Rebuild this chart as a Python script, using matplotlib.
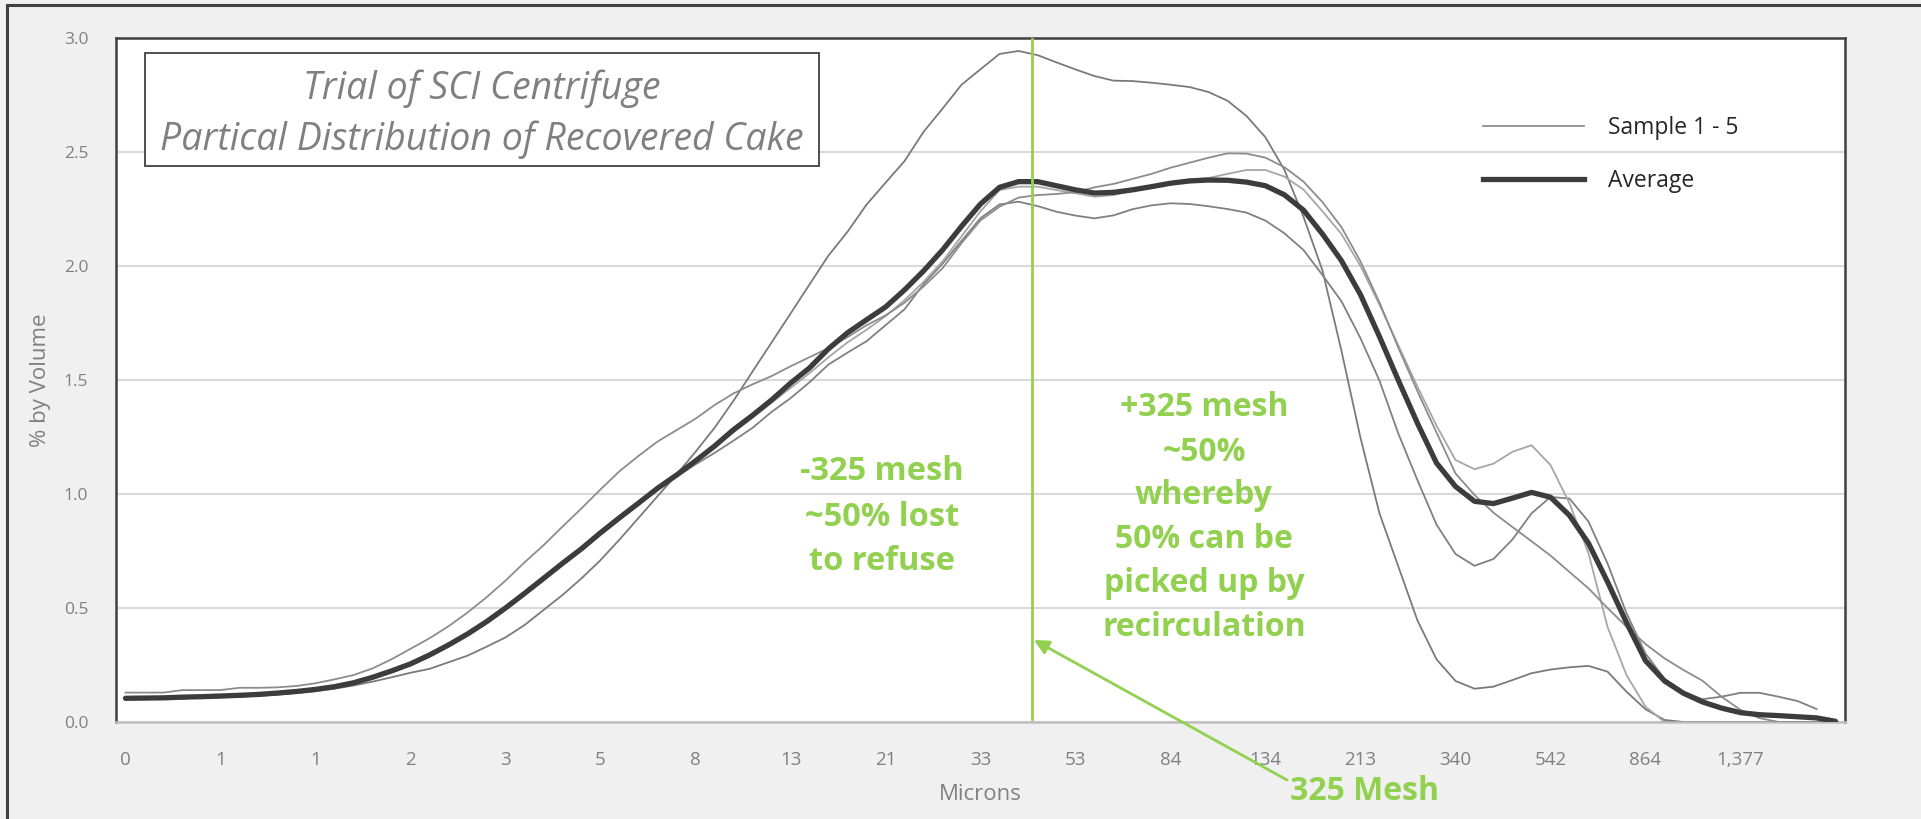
import numpy as np
import matplotlib
matplotlib.use("Agg")
import matplotlib.pyplot as plt
from matplotlib.lines import Line2D

# ---------------- data ----------------
micron_labels = ["0", "1", "1", "2", "3", "5", "8", "13", "21", "33", "53", "84",
                 "134", "213", "340", "542", "864", "1,377"]
label_every = 5
n_bins = 91

sample_a = [0.100, 0.101, 0.102, 0.104, 0.106, 0.108, 0.111, 0.115, 0.120, 0.127,
            0.135, 0.146, 0.160, 0.177, 0.196, 0.216, 0.233, 0.262, 0.291, 0.330,
            0.371, 0.425, 0.491, 0.557, 0.630, 0.710, 0.800, 0.895, 0.990, 1.085,
            1.185, 1.290, 1.409, 1.537, 1.664, 1.791, 1.919, 2.046, 2.150, 2.269,
            2.365, 2.460, 2.588, 2.690, 2.795, 2.863, 2.930, 2.943, 2.925, 2.893,
            2.862, 2.833, 2.813, 2.811, 2.804, 2.795, 2.785, 2.763, 2.725, 2.658,
            2.564, 2.421, 2.216, 1.980, 1.627, 1.246, 0.915, 0.680, 0.445, 0.275,
            0.180, 0.146, 0.155, 0.184, 0.214, 0.230, 0.240, 0.246, 0.221, 0.133,
            0.056, 0.009, 0.0, 0.0, 0.0, 0.0, 0.0, 0.0, 0.0, 0.0, 0.0]

sample_b = [0.099, 0.100, 0.101, 0.104, 0.106, 0.109, 0.112, 0.116, 0.122, 0.129,
            0.138, 0.150, 0.167, 0.190, 0.218, 0.248, 0.287, 0.331, 0.379, 0.432,
            0.492, 0.556, 0.621, 0.688, 0.752, 0.821, 0.887, 0.952, 1.020, 1.075,
            1.130, 1.180, 1.234, 1.290, 1.360, 1.420, 1.490, 1.568, 1.620, 1.670,
            1.740, 1.810, 1.920, 2.010, 2.110, 2.210, 2.270, 2.282, 2.263, 2.238,
            2.221, 2.209, 2.222, 2.249, 2.266, 2.275, 2.272, 2.262, 2.250, 2.234,
            2.199, 2.143, 2.070, 1.960, 1.845, 1.683, 1.497, 1.263, 1.060, 0.866,
            0.737, 0.685, 0.715, 0.801, 0.915, 0.987, 0.980, 0.879, 0.696, 0.477,
            0.300, 0.190, 0.133, 0.100, 0.111, 0.128, 0.128, 0.111, 0.092, 0.057,
            np.nan]

sample_c = [0.108, 0.109, 0.110, 0.113, 0.115, 0.118, 0.121, 0.125, 0.131, 0.138,
            0.147, 0.159, 0.176, 0.200, 0.228, 0.259, 0.298, 0.342, 0.390, 0.444,
            0.504, 0.568, 0.634, 0.700, 0.764, 0.834, 0.900, 0.964, 1.029, 1.087,
            1.149, 1.205, 1.270, 1.335, 1.400, 1.465, 1.530, 1.600, 1.665, 1.720,
            1.780, 1.850, 1.930, 2.020, 2.130, 2.240, 2.333, 2.348, 2.348, 2.333,
            2.319, 2.304, 2.311, 2.330, 2.350, 2.368, 2.380, 2.386, 2.404, 2.421,
            2.421, 2.392, 2.335, 2.240, 2.140, 2.000, 1.830, 1.650, 1.470, 1.300,
            1.149, 1.109, 1.133, 1.185, 1.214, 1.127, 0.959, 0.740, 0.418, 0.206,
            0.067, 0.0, 0.0, 0.0, 0.0, 0.0, 0.0, 0.0, 0.0, 0.0, 0.0]

sample_d = [0.129, 0.129, 0.129, 0.140, 0.140, 0.140, 0.150, 0.150, 0.152, 0.158,
            0.170, 0.187, 0.206, 0.235, 0.275, 0.321, 0.367, 0.420, 0.480, 0.547,
            0.620, 0.700, 0.775, 0.857, 0.937, 1.020, 1.100, 1.167, 1.230, 1.280,
            1.330, 1.390, 1.441, 1.481, 1.517, 1.560, 1.600, 1.640, 1.688, 1.740,
            1.783, 1.839, 1.910, 1.990, 2.100, 2.200, 2.260, 2.300, 2.311, 2.316,
            2.324, 2.345, 2.360, 2.382, 2.404, 2.431, 2.453, 2.475, 2.494, 2.493,
            2.475, 2.433, 2.370, 2.280, 2.170, 2.020, 1.840, 1.640, 1.450, 1.270,
            1.090, 0.996, 0.918, 0.855, 0.793, 0.730, 0.658, 0.586, 0.500, 0.418,
            0.342, 0.279, 0.228, 0.181, 0.111, 0.053, 0.017, 0.0, 0.0, 0.0, 0.0]

average = [0.104, 0.105, 0.106, 0.109, 0.111, 0.114, 0.117, 0.121, 0.127, 0.134,
           0.143, 0.155, 0.172, 0.196, 0.224, 0.255, 0.294, 0.338, 0.386, 0.440,
           0.500, 0.564, 0.630, 0.696, 0.760, 0.830, 0.896, 0.960, 1.025, 1.083,
           1.145, 1.210, 1.282, 1.345, 1.412, 1.486, 1.553, 1.637, 1.707, 1.764,
           1.820, 1.895, 1.978, 2.070, 2.174, 2.272, 2.345, 2.370, 2.370, 2.352,
           2.334, 2.320, 2.323, 2.334, 2.348, 2.363, 2.373, 2.377, 2.376, 2.368,
           2.352, 2.312, 2.245, 2.140, 2.023, 1.874, 1.690, 1.497, 1.310, 1.136,
           1.033, 0.968, 0.958, 0.982, 1.007, 0.986, 0.906, 0.784, 0.615, 0.436,
           0.269, 0.180, 0.126, 0.088, 0.061, 0.041, 0.032, 0.028, 0.023, 0.018,
           0.003]

samples = [sample_a, sample_b, sample_c, sample_d]
sample_colors = ["#7a7a7a", "#808080", "#a6a6a6", "#8c8c8c"]

mesh_position = 47.7   # category position of the 325 mesh marker
y_ticks = [0.0, 0.5, 1.0, 1.5, 2.0, 2.5, 3.0]

# ---------------- figure ----------------
W, H = 1921, 819
fig = plt.figure(figsize=(W / 100, H / 100), dpi=100, facecolor="#f0f0f0")
FONT = ["Open Sans", "DejaVu Sans"]
plt.rcParams["font.family"] = FONT

def fx(px):
    return px / W

def fy(py):
    return 1 - py / H

# outer (cropped) chart border: top and left
fig.add_artist(Line2D([fx(7), fx(W)], [fy(5), fy(5)], color="#404040", lw=2.2))
fig.add_artist(Line2D([fx(7), fx(7)], [fy(5), fy(H)], color="#404040", lw=2.2))

ax = fig.add_axes([fx(116), fy(722), fx(1845) - fx(116), fy(38) - fy(722)])
ax.set_facecolor("white")

x = np.arange(n_bins)
for s, c in zip(samples, sample_colors):
    ax.plot(x, s, color=c, lw=1.3, solid_joinstyle="round", zorder=3)
ax.plot(x, average, color="#3c3c3c", lw=3.8, solid_joinstyle="round",
        solid_capstyle="round", zorder=4)

ax.set_xlim(-0.5, n_bins - 0.5)
ax.set_ylim(0, 3.0)
ax.set_yticks(y_ticks)
ax.set_yticklabels([f"{v:.1f}" for v in y_ticks])
ax.set_xticks(np.arange(0, len(micron_labels) * label_every, label_every))
ax.set_xticklabels(micron_labels)
ax.tick_params(axis="both", length=0, labelcolor="#808080")
ax.tick_params(axis="x", pad=21, labelsize=13.5)
ax.tick_params(axis="y", pad=20, labelsize=12.5)
ax.grid(axis="y", color="#d9d9d9", lw=1.5, zorder=0)
ax.set_axisbelow(True)

for side in ["left", "top", "right"]:
    ax.spines[side].set_color("#404040")
    ax.spines[side].set_linewidth(1.8)
ax.spines["bottom"].set_color("#bfbfbf")
ax.spines["bottom"].set_linewidth(1.8)

ax.set_ylabel("% by Volume", color="#808080", fontsize=16, labelpad=9)
ax.set_xlabel("Microns", color="#808080", fontsize=16, labelpad=11)

# 325 mesh vertical marker
green = "#92d050"
ax.axvline(mesh_position, ymin=0.004, ymax=1.0, color=green, lw=2, zorder=5)

# legend
leg = ax.legend([Line2D([], [], color="#8c8c8c", lw=1.3),
                 Line2D([], [], color="#3c3c3c", lw=3.8)],
                ["Sample 1 - 5", "Average"],
                loc="upper left", bbox_to_anchor=(fx(1483), fy(116)),
                bbox_transform=fig.transFigure, frameon=False, fontsize=16.5,
                handlelength=4.4, handletextpad=1.05, labelspacing=1.25,
                borderpad=0, borderaxespad=0)
for t in leg.get_texts():
    t.set_color("#262626")

# title box
ax.add_artist(plt.Rectangle((fx(145), fy(166)), fx(819) - fx(145), fy(53) - fy(166),
                            transform=fig.transFigure, facecolor="white",
                            edgecolor="#404040", lw=1.3, zorder=6))
fig.text(fx(482), fy(89), "Trial of SCI Centrifuge", ha="center", va="center",
         fontsize=27, style="italic", color="#808080", zorder=7)
fig.text(fx(482), fy(140), "Partical Distribution of Recovered Cake", ha="center",
         va="center", fontsize=27, style="italic", color="#808080", zorder=7)

# green annotations
left_lines = ["-325 mesh", "~50% lost", "to refuse"]
left_y = [472, 517, 561]
for t, yy in zip(left_lines, left_y):
    fig.text(fx(882), fy(yy), t, ha="center", va="center", fontsize=23.5,
             fontweight="bold", color=green)

right_lines = ["+325 mesh", "~50%", "whereby", "50% can be", "picked up by",
               "recirculation"]
right_y = [408, 452, 496, 540, 584, 628]
for t, yy in zip(right_lines, right_y):
    fig.text(fx(1204), fy(yy), t, ha="center", va="center", fontsize=23,
             fontweight="bold", color=green)

fig.text(fx(1364), fy(792), "325 Mesh", ha="center", va="center", fontsize=23,
         fontweight="bold", color=green)
ax.annotate("", xy=(fx(1034), fy(640)), xycoords="figure fraction",
            xytext=(fx(1287), fy(780)), textcoords="figure fraction",
            arrowprops=dict(arrowstyle="-|>", color=green, lw=2,
                            mutation_scale=22, shrinkA=0, shrinkB=0),
            annotation_clip=False, zorder=8)

fig.savefig("out.png", dpi=100, facecolor=fig.get_facecolor())
